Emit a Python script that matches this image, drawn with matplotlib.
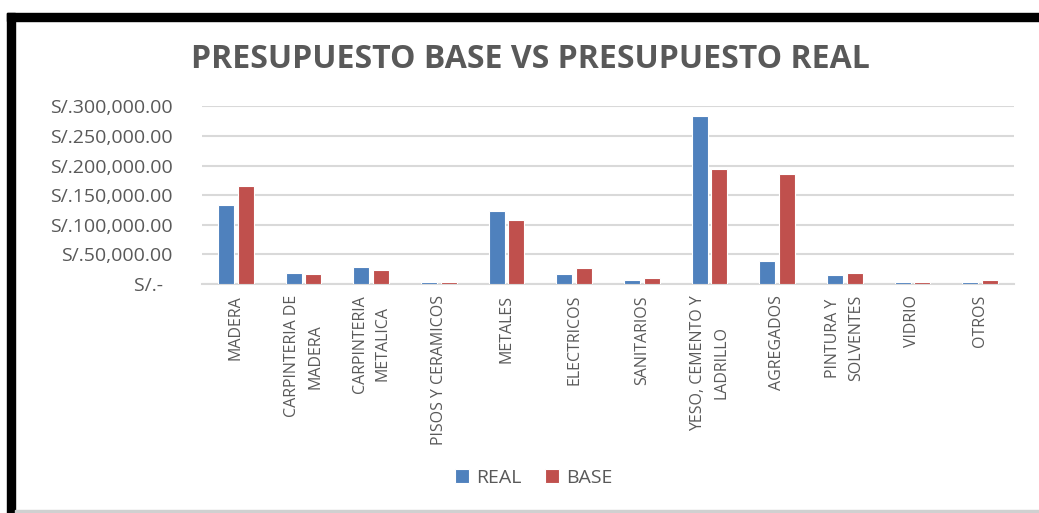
import numpy as np
import matplotlib
matplotlib.use("Agg")
import matplotlib.pyplot as plt
from matplotlib import font_manager
from matplotlib.patches import Rectangle

# data
categories = ["MADERA", "CARPINTERIA DE\nMADERA", "CARPINTERIA\nMETALICA",
              "PISOS Y CERAMICOS", "METALES", "ELECTRICOS", "SANITARIOS",
              "YESO, CEMENTO Y\nLADRILLO", "AGREGADOS", "PINTURA Y\nSOLVENTES",
              "VIDRIO", "OTROS"]
real = [133700, 18500, 28100, 3900, 122500, 16900, 7300, 284300, 38800, 15200, 2800, 2800]
base = [165200, 16900, 24200, 3900, 108400, 27500, 9600, 194400, 185400, 18500, 2800, 6200]
y_ticks = [0, 50000, 100000, 150000, 200000, 250000, 300000]
y_labels = ["S/.-  ", "S/.50,000.00", "S/.100,000.00", "S/.150,000.00",
            "S/.200,000.00", "S/.250,000.00", "S/.300,000.00"]

names = {f.name for f in font_manager.fontManager.ttflist}
narrow = "Liberation Sans Narrow" if "Liberation Sans Narrow" in names else "Open Sans"

W, H = 1039, 513
fig = plt.figure(figsize=(W / 100, H / 100), dpi=100)

# black frame of the screenshot (top and left), thin gray line at the bottom
fig.patches.append(Rectangle((7 / W, 1 - 21 / H), 1 - 7 / W, 8 / H, transform=fig.transFigure,
                             color="black", zorder=0))
fig.patches.append(Rectangle((7 / W, 0), 8 / W, 1 - 13 / H, transform=fig.transFigure,
                             color="black", zorder=0))
fig.patches.append(Rectangle((15 / W, 0), 1 - 15 / W, 3 / H, transform=fig.transFigure,
                             color="#d0d0d0", zorder=0))

ax = fig.add_axes([202 / W, 1 - 284 / H, (1014 - 202) / W, (284 - 106.3) / H])

x = np.arange(len(categories))
w = 0.235
ax.bar(x - 0.145, real, w, color="#4F81BD", edgecolor="white", linewidth=0.8, label="REAL", zorder=3)
ax.bar(x + 0.145, base, w, color="#C0504D", edgecolor="white", linewidth=0.8, label="BASE", zorder=3)

ax.set_xlim(-0.5, len(categories) - 0.5)
ax.set_ylim(0, 300000)
ax.set_yticks(y_ticks)
ax.set_yticklabels(y_labels, fontsize=14, color="#595959", family="Open Sans")
ax.grid(axis="y", color="#D9D9D9", linewidth=1.5, zorder=0)
ax.set_xticks(x)
ax.set_xticklabels(categories, rotation=90, fontsize=11.5, color="#595959",
                   family=narrow, va="top", ha="center", multialignment="center",
                   linespacing=1.6)
ax.tick_params(axis="both", length=0)
ax.tick_params(axis="y", pad=21)
ax.tick_params(axis="x", pad=8)
for s in ["top", "right", "left"]:
    ax.spines[s].set_visible(False)
ax.spines["bottom"].set_color("#D9D9D9")
ax.spines["bottom"].set_linewidth(1.5)

fig.text(530 / W, 1 - 60 / H, "PRESUPUESTO BASE VS PRESUPUESTO REAL", ha="center", va="center",
         fontsize=23, fontweight="bold", color="#595959", family="Open Sans")

fig.legend(loc="center", bbox_to_anchor=(534 / W, 1 - 478 / H), ncol=2, frameon=False,
           prop={"family": "Open Sans", "size": 14}, labelcolor="#595959",
           handlelength=0.7, handleheight=0.7, handletextpad=0.4, columnspacing=1.2)

fig.savefig("out.png", dpi=100)
